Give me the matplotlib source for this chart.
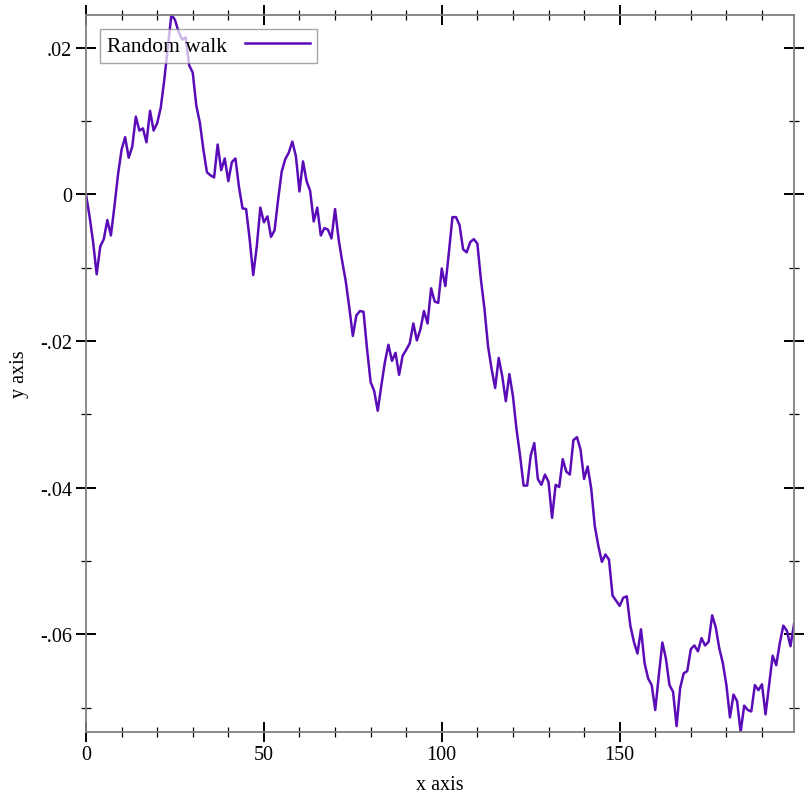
import matplotlib
matplotlib.use("Agg")
import matplotlib.pyplot as plt
from matplotlib.ticker import MultipleLocator, FuncFormatter

# random walk values, one per x step
walk = [
    0.0, -0.003, -0.0065, -0.0109, -0.0071, -0.0061, -0.0035, -0.0056, -0.0016, 0.0027,
    0.0061, 0.0078, 0.005, 0.0065, 0.0106, 0.0087, 0.009, 0.0071, 0.0114, 0.0087,
    0.0097, 0.0118, 0.0156, 0.02, 0.0245, 0.0238, 0.0222, 0.0211, 0.0214, 0.0176,
    0.0166, 0.0121, 0.0098, 0.0061, 0.003, 0.0026, 0.0023, 0.0068, 0.0033, 0.0049,
    0.0018, 0.0044, 0.0049, 0.001, -0.0019, -0.002, -0.0061, -0.011, -0.0071, -0.0018,
    -0.0038, -0.003, -0.0058, -0.0049, -0.0007, 0.0031, 0.0048, 0.0057, 0.0072, 0.0052,
    0.0004, 0.0045, 0.0018, 0.0005, -0.0037, -0.0018, -0.0056, -0.0046, -0.0048, -0.006,
    -0.002, -0.0061, -0.0091, -0.0118, -0.0154, -0.0193, -0.0165, -0.0159, -0.016, -0.0211,
    -0.0256, -0.0268, -0.0295, -0.0261, -0.0229, -0.0205, -0.0227, -0.0216, -0.0246, -0.022,
    -0.0212, -0.0203, -0.0176, -0.0199, -0.0184, -0.0159, -0.0176, -0.0128, -0.0146, -0.0148,
    -0.0101, -0.0125, -0.0079, -0.0031, -0.0031, -0.0042, -0.0075, -0.0079, -0.0065, -0.0061,
    -0.0067, -0.0116, -0.0156, -0.0207, -0.0238, -0.0264, -0.0223, -0.0248, -0.0282, -0.0245,
    -0.0275, -0.032, -0.0356, -0.0397, -0.0397, -0.0356, -0.0339, -0.0388, -0.0396, -0.0382,
    -0.0392, -0.0441, -0.0396, -0.0399, -0.0361, -0.0378, -0.0382, -0.0335, -0.0331, -0.0348,
    -0.0388, -0.0371, -0.0401, -0.0452, -0.0479, -0.0501, -0.0491, -0.0498, -0.0547, -0.0554,
    -0.0561, -0.055, -0.0548, -0.0588, -0.061, -0.0626, -0.0593, -0.0639, -0.066, -0.0669,
    -0.0703, -0.0656, -0.0611, -0.0633, -0.0669, -0.0678, -0.0725, -0.0673, -0.0653, -0.065,
    -0.062, -0.0615, -0.0623, -0.0605, -0.0615, -0.061, -0.0574, -0.059, -0.0619, -0.0639,
    -0.0669, -0.0713, -0.0682, -0.0691, -0.0733, -0.0697, -0.0703, -0.0705, -0.0669, -0.0676,
    -0.0668, -0.0709, -0.0669, -0.0629, -0.0642, -0.0612, -0.0588, -0.0595, -0.0616, -0.0586,
]
steps = list(range(len(walk)))

plt.rcParams["font.family"] = ["Liberation Serif", "DejaVu Serif"]
plt.rcParams["font.size"] = 14.5

fig = plt.figure(figsize=(8.12, 8.12), dpi=100)
ax = fig.add_axes([86 / 812, 1 - 733 / 812, (794 - 86) / 812, (733 - 15.7) / 812])

ax.plot(steps, walk, color="#5a0cb8", lw=1.8, label="Random walk")

ax.set_xlim(0, len(walk) - 1)
ax.set_ylim(min(walk), max(walk))

ax.xaxis.set_major_locator(MultipleLocator(50))
ax.xaxis.set_minor_locator(MultipleLocator(10))
ax.yaxis.set_major_locator(MultipleLocator(0.02))
ax.yaxis.set_minor_locator(MultipleLocator(0.01))


def ylab(v, pos):
    if abs(v) < 1e-9:
        return "0"
    s = f"{v:.2f}"
    return s.replace("0.", ".")


ax.yaxis.set_major_formatter(FuncFormatter(ylab))

for s in ax.spines.values():
    s.set_color("#808080")
    s.set_linewidth(1.3)

ax.tick_params(which="both", direction="inout", top=True, right=True, colors="black")
ax.tick_params(which="major", length=14.4, width=1.4, pad=3)
ax.tick_params(which="minor", length=7, width=0.9)
ax.tick_params(axis="x", which="major", pad=2)

ax.set_xlabel("x axis", labelpad=8)
ax.set_ylabel("y axis", labelpad=8)

# legend: label first, line sample on the right
leg = ax.legend(loc="upper left", bbox_to_anchor=(0.0198, 0.98), borderaxespad=0,
                markerfirst=False, fancybox=False, framealpha=0.7, edgecolor="#808080",
                fontsize=15.5, handlelength=3.0, borderpad=0.32, handletextpad=0.85)
leg.get_frame().set_linewidth(1.0)

fig.savefig("out.png", dpi=100)
